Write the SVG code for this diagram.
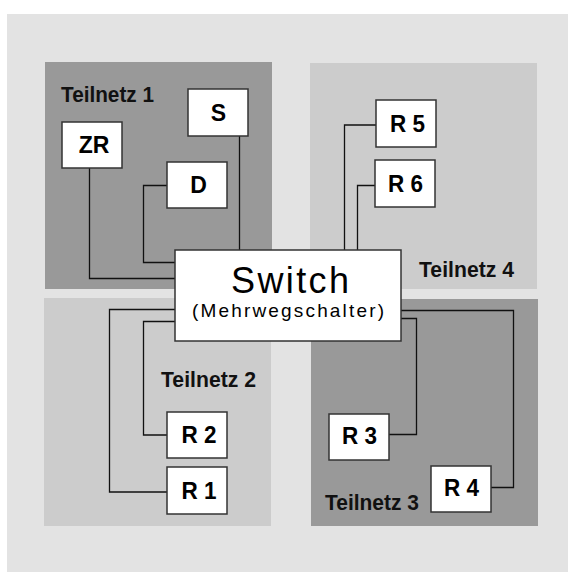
<svg xmlns="http://www.w3.org/2000/svg" width="568" height="572" viewBox="0 0 568 572">
  <style>
    .dark { fill: #999999; }
    .light { fill: #cccccc; }
    .box { fill: #ffffff; stroke: #333333; stroke-width: 1.5; }
    .wire { fill: none; stroke: #111111; stroke-width: 1.3; }
    .net { font-family: "Liberation Sans", Arial, sans-serif; font-weight: bold; font-size: 22px; fill: #111111; }
    .lbl { font-family: "Liberation Sans", Arial, sans-serif; font-weight: bold; font-size: 23px; fill: #000000; text-anchor: middle; }
    .sw { font-family: "Liberation Sans", Arial, sans-serif; fill: #000000; text-anchor: middle; }
  </style>

  <!-- background and the four subnet panels -->
  <rect x="7" y="14" width="561" height="558" fill="#e3e3e3"/>
  <g id="teilnetz1">
    <rect class="dark" x="45" y="62" width="227" height="227"/>
    <text class="net" x="61" y="102" textLength="93" lengthAdjust="spacingAndGlyphs">Teilnetz 1</text>
  </g>
  <g id="teilnetz4">
    <rect class="light" x="310" y="63" width="227" height="226"/>
    <text class="net" x="419" y="277" textLength="95" lengthAdjust="spacingAndGlyphs">Teilnetz 4</text>
  </g>
  <g id="teilnetz2">
    <rect class="light" x="44" y="298" width="227" height="228"/>
    <text class="net" x="161" y="387" textLength="95" lengthAdjust="spacingAndGlyphs">Teilnetz 2</text>
  </g>
  <g id="teilnetz3">
    <rect class="dark" x="311" y="299" width="227" height="227"/>
    <text class="net" x="325" y="510" textLength="94" lengthAdjust="spacingAndGlyphs">Teilnetz 3</text>
  </g>

  <!-- cabling to the switch -->
  <g id="connectors">
    <path class="wire" d="M89.5,168 V278.5 H175"/>
    <path class="wire" d="M167,185.5 H143.5 V262.5 H175"/>
    <path class="wire" d="M239.5,136 V250"/>
    <path class="wire" d="M376,125 H344.5 V250"/>
    <path class="wire" d="M375,185.5 H357.5 V250"/>
    <path class="wire" d="M167,435 H143.5 V321.5 H175"/>
    <path class="wire" d="M167,492 H109.5 V309.5 H175"/>
    <path class="wire" d="M389,434.5 H416.5 V318.5 H401"/>
    <path class="wire" d="M491,487.5 H513.5 V310.5 H401"/>
  </g>

  <!-- devices -->
  <g id="ZR">
    <rect class="box" x="62" y="122" width="60" height="46"/>
    <text class="lbl" x="94" y="153">ZR</text>
  </g>
  <g id="S">
    <rect class="box" x="188" y="89" width="60" height="47"/>
    <text class="lbl" x="218.5" y="121">S</text>
  </g>
  <g id="D">
    <rect class="box" x="167" y="162" width="60" height="46"/>
    <text class="lbl" x="198.5" y="193">D</text>
  </g>
  <g id="R5">
    <rect class="box" x="376" y="100" width="60" height="47"/>
    <text class="lbl" x="407.5" y="132" textLength="35" lengthAdjust="spacingAndGlyphs">R 5</text>
  </g>
  <g id="R6">
    <rect class="box" x="375" y="160" width="60" height="47"/>
    <text class="lbl" x="405.5" y="192" textLength="35" lengthAdjust="spacingAndGlyphs">R 6</text>
  </g>
  <g id="R2">
    <rect class="box" x="167" y="412" width="60" height="46"/>
    <text class="lbl" x="199" y="443" textLength="35" lengthAdjust="spacingAndGlyphs">R 2</text>
  </g>
  <g id="R1">
    <rect class="box" x="167" y="467" width="60" height="47"/>
    <text class="lbl" x="199" y="499" textLength="35" lengthAdjust="spacingAndGlyphs">R 1</text>
  </g>
  <g id="R3">
    <rect class="box" x="329" y="414" width="60" height="46"/>
    <text class="lbl" x="359.5" y="444" textLength="35" lengthAdjust="spacingAndGlyphs">R 3</text>
  </g>
  <g id="R4">
    <rect class="box" x="431" y="466" width="60" height="46"/>
    <text class="lbl" x="461.5" y="496" textLength="35" lengthAdjust="spacingAndGlyphs">R 4</text>
  </g>
  <g id="switch">
    <rect class="box" x="175" y="250" width="226" height="91"/>
    <text class="sw" x="290" y="293" font-size="36" textLength="118" lengthAdjust="spacing">Switch</text>
    <text class="sw" x="288" y="317" font-size="19" textLength="192" lengthAdjust="spacing">(Mehrwegschalter)</text>
  </g>
</svg>
